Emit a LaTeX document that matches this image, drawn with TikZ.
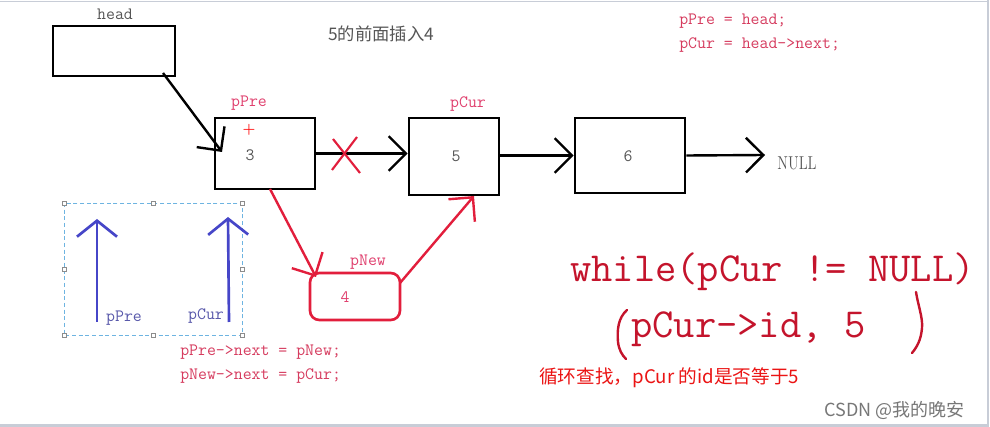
\documentclass[tikz,border=0pt]{standalone}
\usepackage{fontspec}
\newfontfamily\cjk{Noto Sans CJK SC}
\usetikzlibrary{arrows.meta}
\definecolor{codepink}{RGB}{214,60,95}
\definecolor{lblpink}{RGB}{224,64,110}
\definecolor{redline}{RGB}{226,30,60}
\definecolor{bigred}{RGB}{196,20,44}
\definecolor{purered}{RGB}{235,20,20}
\definecolor{bluearrow}{RGB}{70,70,200}
\definecolor{bluelbl}{RGB}{88,88,170}
\definecolor{dashblue}{RGB}{110,180,225}
\definecolor{handle}{RGB}{140,140,140}
\definecolor{graytxt}{RGB}{85,85,85}
\definecolor{framegray}{RGB}{200,205,215}
\tikzset{
  listbox/.style={draw=black, line width=2pt, inner sep=0pt},
  monotxt/.style={font=\ttfamily\fontsize{13}{15}\selectfont, inner sep=0pt},
  codetxt/.style={font=\ttfamily\fontsize{13}{15}\selectfont, text=codepink, inner sep=0pt, anchor=west},
  ptrlbl/.style={font=\ttfamily\fontsize{13}{15}\selectfont, text=lblpink, inner sep=0pt},
  barb/.style={-{Straight Barb[length=13pt,width=26pt]}},
  blackarrow/.style={barb, draw=black, line width=1.8pt},
  redarrow/.style={barb, draw=redline, line width=1.8pt},
  bluearr/.style={-{Straight Barb[length=12pt,width=30pt]}, draw=bluearrow, line width=2pt},
  hnd/.style={draw=handle, fill=white, line width=0.4pt, minimum size=3pt, inner sep=0pt},
}
\begin{document}
\begin{tikzpicture}[x=0.75pt,y=-0.75pt]
\useasboundingbox (0,0) rectangle (990,427);
\fill[white] (0,0) rectangle (990,427);
\draw[framegray, line width=0.6pt] (0,1) -- (988,1);
\draw[framegray, line width=2.2pt] (0,425.5) -- (988,425.5) -- (988,0);

% boxes
\node[listbox, minimum width=91.5pt, minimum height=37.5pt] (head) at (114,51) {};
\node[listbox, minimum width=75pt, minimum height=53.25pt] (n3) at (265,153.5) {};
\node[listbox, minimum width=67.5pt, minimum height=57.75pt] (n5) at (454,156.5) {};
\node[listbox, minimum width=82.5pt, minimum height=56.25pt] (n6) at (630,155.5) {};
\node[draw=redline, line width=2pt, rounded corners=7pt, minimum width=67.5pt, minimum height=35.25pt, inner sep=0pt] (nnew) at (355,296.5) {};

% box contents
\node[monotxt, text=graytxt] (v3) at (250,155) {3};
\node[monotxt, text=graytxt] (v5) at (456,156) {5};
\node[monotxt, text=graytxt] (v6) at (628,156) {6};
\node[monotxt, text=lblpink] (v4) at (345,297) {4};
\node[font=\bfseries\fontsize{11}{12}\selectfont, text=red, inner sep=0pt] (plus) at (249,130) {+};

% labels
\node[monotxt, text=graytxt] (lhead) at (115,14) {head};
\node[ptrlbl] (lpre) at (249,103) {pPre};
\node[ptrlbl] (lcur) at (468,104) {pCur};
\node[ptrlbl] (lnew) at (368,262) {pNew};
\node[font=\fontsize{14}{15}\selectfont, text=graytxt, inner sep=0pt, xscale=0.78, transform shape] (null) at (797,163) {NULL};
\node[font=\cjk\fontsize{13}{15}\selectfont, text=graytxt, inner sep=0pt] (title) at (381,34) {5的前面插入4};

% connectors
\coordinate (hstart) at (163,73);
\coordinate (htip) at (222,152);
\draw[blackarrow] (hstart) -- (htip);
\draw[blackarrow] (n3.east) -- (n5.west |- n3.east);
\draw[blackarrow] (n5.east |- n6.west) -- (n6.west);
\coordinate (nullend) at (765,155);
\draw[blackarrow] (n6.east) -- (nullend);

% red X on old link
\coordinate (xa) at (333,139);
\coordinate (xb) at (360,173);
\coordinate (xc) at (357,137);
\coordinate (xd) at (332,170);
\draw[redline, line width=1.6pt] (xa) -- (xb);
\draw[redline, line width=1.6pt] (xc) -- (xd);

% red links
\coordinate (r1s) at (270,189);
\coordinate (r1t) at (316,277);
\draw[redarrow] (r1s) -- (r1t);
\coordinate (r2s) at (400,283);
\coordinate (r2t) at (474,196);
\draw[redarrow] (r2s) -- (r2t);

% dashed selection frame
\draw[dashblue, dash pattern=on 3pt off 2pt, line width=0.7pt] (64,203) rectangle (242,335);
\foreach \p/\q in {64/203,153/203,242/203,64/269,242/269,64/335,153/335,242/335}
  \node[hnd] at (\p,\q) {};
\coordinate (b1s) at (97,322);
\coordinate (b1t) at (97,219);
\draw[bluearr] (b1s) -- (b1t);
\coordinate (b2s) at (229,322);
\coordinate (b2t) at (228,217);
\draw[bluearr] (b2s) -- (b2t);
\node[monotxt, text=bluelbl] (bpre) at (124,318) {pPre};
\node[monotxt, text=bluelbl] (bcur) at (206,316) {pCur};

% code
\node[codetxt] (c1) at (180,352) {pPre->next = pNew;};
\node[codetxt] (c2) at (180,376) {pNew->next = pCur;};
\node[codetxt] (c3) at (679,21) {pPre = head;};
\node[codetxt] (c4) at (679,45) {pCur = head->next;};

% big while text
\node[font=\ttfamily\fontsize{31}{34}\selectfont, text=bigred, inner sep=0pt, anchor=west] (w1) at (570,272) {while(pCur != NULL)};
\node[font=\ttfamily\fontsize{31}{34}\selectfont, text=bigred, inner sep=0pt, anchor=west] (w2) at (631,329) {pCur->id, 5};
\draw[bigred, line width=1.8pt, line cap=round] (627,310) .. controls (618,318) and (617,330) .. (618,342) .. controls (619,350) and (622,355) .. (626,359);
\draw[bigred, line width=1.8pt, line cap=round] (916,292) .. controls (918,305) and (923,318) .. (922,328) .. controls (921,340) and (917,347) .. (912,353);

% notes
\node[font=\cjk\fontsize{14}{16}\selectfont, text=purered, inner sep=0pt, anchor=west] (note) at (539,378) {循环查找，pCur 的id是否等于5};
\node[font=\cjk\fontsize{13.5}{15}\selectfont, text=graytxt!80, inner sep=0pt, anchor=west] (csdn) at (824,410) {CSDN @我的晚安};
\end{tikzpicture}
\end{document}
